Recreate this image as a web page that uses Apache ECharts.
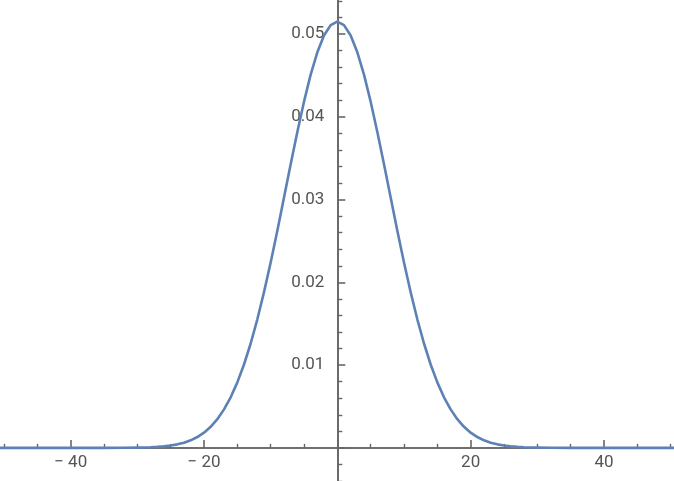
<!DOCTYPE html>
<html>
<head>
<meta charset="utf-8">
<script src="https://cdn.jsdelivr.net/npm/echarts@6/dist/echarts.min.js"></script>
<style>
html,body{margin:0;padding:0;background:#fff;}
#chart{width:674px;height:481px;}
</style>
</head>
<body>
<div id="chart"></div>
<script>
// Values (x, density)
const xValues = [-51,-40,-35,-32,-30,-28,-27,-26,-25,-24,-23,-22,-21,-20,-19,-18,-17,-16,-15,-14,-13,-12,-11,-10,-9,-8,-7,-6,-5,-4,-3,-2,-1,0,
  1,2,3,4,5,6,7,8,9,10,11,12,13,14,15,16,17,18,19,20,21,22,23,24,25,26,27,28,30,32,35,40,51];
const yValues = [0,0,0.000001,0.00001,0.000029,0.000075,0.000119,0.000185,0.000283,0.000426,0.00063,0.000916,0.00131,0.00184,0.00255,0.00347,0.00465,0.00611,0.00791,0.01007,0.01261,0.01553,0.01881,0.0224,0.02624,0.03023,0.03425,0.03816,0.04182,0.04508,0.04778,0.04981,0.05107,0.0515,
  0.05107,0.04981,0.04778,0.04508,0.04182,0.03816,0.03425,0.03023,0.02624,0.0224,0.01881,0.01553,0.01261,0.01007,0.00791,0.00611,0.00465,0.00347,0.00255,0.00184,0.00131,0.000916,0.00063,0.000426,0.000283,0.000185,0.000119,0.000075,0.000029,0.00001,0.000001,0,0];
const xMajorTicks = [-40,-20,0,20,40];
const xLabelTicks = [-40,-20,20,40];
const xMinorTicks = [-50,-45,-35,-30,-25,-15,-10,-5,5,10,15,25,30,35,45,50];
const yMajorTicks = [0,0.01,0.02,0.03,0.04,0.05];
const yLabelTicks = [0.01,0.02,0.03,0.04,0.05];
const yMinorTicks = [-0.004,-0.002,0.002,0.004,0.006,0.008,0.012,0.014,0.016,0.018,0.022,0.024,0.026,0.028,0.032,0.034,0.036,0.038,0.042,0.044,0.046,0.048,0.052,0.054];

const axisColor = '#666666';
const textColor = '#555555';
const font = 'Roboto';
const W = 674, H = 481;

const chart = echarts.init(document.getElementById('chart'), null, {renderer:'canvas', width:W, height:H});
const xBase = {
  type:'value', min:-50.6, max:50.5, position:'bottom', splitLine:{show:false},
  axisLine:{show:true, onZero:false, lineStyle:{color:axisColor, width:1.6}}
};
const yBase = {
  type:'value', min:-0.004, max:0.0541, position:'left', splitLine:{show:false},
  axisLine:{show:true, onZero:false, lineStyle:{color:axisColor, width:1.6}}
};
const option = {
  animation:false,
  grid:{left:0, right:0, top:0, bottom:0, containLabel:false, outerBoundsMode:'none'},
  xAxis:[
    Object.assign({}, xBase, {
      axisTick:{show:true, inside:true, length:8, customValues:xMajorTicks, lineStyle:{color:axisColor, width:1.6}},
      axisLabel:{show:true, customValues:xLabelTicks, margin:6, color:textColor, fontFamily:font, fontSize:17,
        formatter: v => v < 0 ? '\u2212 ' + Math.abs(v) : String(v)}
    }),
    Object.assign({}, xBase, {
      axisTick:{show:true, inside:true, length:4, customValues:xMinorTicks, lineStyle:{color:axisColor, width:1.4}},
      axisLabel:{show:false}
    })
  ],
  yAxis:[
    Object.assign({}, yBase, {
      axisTick:{show:true, inside:true, length:8, customValues:yMajorTicks, lineStyle:{color:axisColor, width:1.6}},
      axisLabel:{show:true, customValues:yLabelTicks, margin:13, color:textColor, fontFamily:font, fontSize:17,
        formatter: v => v.toFixed(2)}
    }),
    Object.assign({}, yBase, {
      axisTick:{show:true, inside:true, length:5, customValues:yMinorTicks, lineStyle:{color:axisColor, width:1.4}},
      axisLabel:{show:false}
    })
  ],
  series:[{
    type:'line', xAxisIndex:0, yAxisIndex:0,
    data: xValues.map((x,i)=>[x, yValues[i]]),
    showSymbol:false, smooth:false,
    lineStyle:{color:'#5e81b5', width:2.6, join:'round'},
    z:5
  }]
};
chart.setOption(option);
// Move axes onto the origin using the library's own scales
const x0 = chart.convertToPixel({xAxisIndex:0}, 0);
const y0 = chart.convertToPixel({yAxisIndex:0}, 0);
chart.setOption({
  xAxis:[{offset: -(H - y0)}, {offset: -(H - y0)}],
  yAxis:[{offset: -x0}, {offset: -x0}]
});
</script>
</body>
</html>
